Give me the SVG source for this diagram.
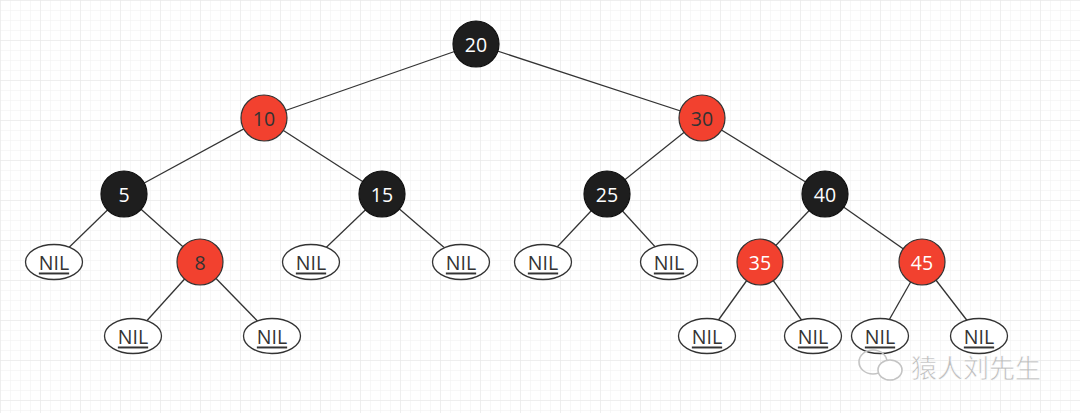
<svg xmlns="http://www.w3.org/2000/svg" width="1080" height="413" viewBox="0 0 1080 413">
<defs>
<pattern id="grid" width="10" height="10" patternUnits="userSpaceOnUse">
<path d="M10 0H0V10" fill="none" stroke="#f0f0f0" stroke-width="1"/>
</pattern>
<pattern id="grid2" width="40" height="40" patternUnits="userSpaceOnUse">
<path d="M40 0H0V40" fill="none" stroke="#e6e6e6" stroke-width="1"/>
</pattern>
<style>
.edge{stroke:#333;stroke-width:1.3;fill:none}
.b circle{fill:#1e1e1e;stroke:#111;stroke-width:1.2}
.r circle{fill:#f2412f;stroke:#333;stroke-width:1.2}
.n ellipse{fill:#fff;stroke:#333;stroke-width:1.3}
text{font-family:"Open Sans","Noto Sans","Liberation Sans",sans-serif;font-size:19.5px;text-anchor:middle;dominant-baseline:central}
.b text{fill:#fff}
.r text{fill:#333}
.r.w text{fill:#fff}
.n text{fill:#333;text-decoration:underline}
.wm{font-family:"Noto Sans CJK SC",sans-serif;font-size:26px;fill:#bdbdbd;stroke:#fff;stroke-width:0.6;text-anchor:start}
</style>
</defs>
<rect width="1080" height="413" fill="#fff"/>
<rect width="1080" height="413" fill="url(#grid)"/>
<rect width="1080" height="413" fill="url(#grid2)"/>
<g id="connectors">
<line class="edge" x1="476" y1="44" x2="264" y2="118"/>
<line class="edge" x1="476" y1="44" x2="702" y2="118"/>
<line class="edge" x1="264" y1="118" x2="124" y2="194"/>
<line class="edge" x1="264" y1="118" x2="382" y2="194"/>
<line class="edge" x1="702" y1="118" x2="607" y2="194"/>
<line class="edge" x1="702" y1="118" x2="825" y2="194"/>
<line class="edge" x1="124" y1="194" x2="54" y2="262"/>
<line class="edge" x1="124" y1="194" x2="200" y2="262"/>
<line class="edge" x1="382" y1="194" x2="311" y2="262"/>
<line class="edge" x1="382" y1="194" x2="461" y2="262"/>
<line class="edge" x1="607" y1="194" x2="543" y2="262"/>
<line class="edge" x1="607" y1="194" x2="669" y2="262"/>
<line class="edge" x1="825" y1="194" x2="760" y2="262"/>
<line class="edge" x1="825" y1="194" x2="922" y2="262"/>
<line class="edge" x1="200" y1="262" x2="133" y2="336"/>
<line class="edge" x1="200" y1="262" x2="272" y2="336"/>
<line class="edge" x1="760" y1="262" x2="707" y2="336"/>
<line class="edge" x1="760" y1="262" x2="813" y2="336"/>
<line class="edge" x1="922" y1="262" x2="880" y2="336"/>
<line class="edge" x1="922" y1="262" x2="979" y2="336"/>
</g>
<g id="n20" class="b"><circle cx="476" cy="44" r="23"/><text x="476" y="44">20</text></g>
<g id="n10" class="r"><circle cx="264" cy="118" r="23"/><text x="264" y="118">10</text></g>
<g id="n30" class="r"><circle cx="702" cy="118" r="23"/><text x="702" y="118">30</text></g>
<g id="n5" class="b"><circle cx="124" cy="194" r="23"/><text x="124" y="194">5</text></g>
<g id="n15" class="b"><circle cx="382" cy="194" r="23"/><text x="382" y="194">15</text></g>
<g id="n25" class="b"><circle cx="607" cy="194" r="23"/><text x="607" y="194">25</text></g>
<g id="n40" class="b"><circle cx="825" cy="194" r="23"/><text x="825" y="194">40</text></g>
<g id="n8" class="r"><circle cx="200" cy="262" r="23"/><text x="200" y="262">8</text></g>
<g id="n35" class="r w"><circle cx="760" cy="262" r="23"/><text x="760" y="262">35</text></g>
<g id="n45" class="r w"><circle cx="922" cy="262" r="23"/><text x="922" y="262">45</text></g>
<g id="nil1" class="n"><ellipse cx="54" cy="262" rx="28.5" ry="17.5"/><text x="54" y="262">NIL</text></g>
<g id="nil2" class="n"><ellipse cx="311" cy="262" rx="28.5" ry="17.5"/><text x="311" y="262">NIL</text></g>
<g id="nil3" class="n"><ellipse cx="461" cy="262" rx="28.5" ry="17.5"/><text x="461" y="262">NIL</text></g>
<g id="nil4" class="n"><ellipse cx="543" cy="262" rx="28.5" ry="17.5"/><text x="543" y="262">NIL</text></g>
<g id="nil5" class="n"><ellipse cx="669" cy="262" rx="28.5" ry="17.5"/><text x="669" y="262">NIL</text></g>
<g id="nil6" class="n"><ellipse cx="133" cy="336" rx="28.5" ry="17.5"/><text x="133" y="336">NIL</text></g>
<g id="nil7" class="n"><ellipse cx="272" cy="336" rx="28.5" ry="17.5"/><text x="272" y="336">NIL</text></g>
<g id="nil8" class="n"><ellipse cx="707" cy="336" rx="28.5" ry="17.5"/><text x="707" y="336">NIL</text></g>
<g id="nil9" class="n"><ellipse cx="813" cy="336" rx="28.5" ry="17.5"/><text x="813" y="336">NIL</text></g>
<g id="nil10" class="n"><ellipse cx="880" cy="336" rx="28.5" ry="17.5"/><text x="880" y="336">NIL</text></g>
<g id="nil11" class="n"><ellipse cx="979" cy="336" rx="28.5" ry="17.5"/><text x="979" y="336">NIL</text></g>
<g id="watermark">
<ellipse cx="873" cy="362" rx="14" ry="12" fill="none" stroke="#c4c4c4" stroke-width="1.6"/>
<ellipse cx="890" cy="370" rx="12" ry="10" fill="#fff" stroke="#c4c4c4" stroke-width="1.6"/>
<text class="wm" x="911" y="366">猿人刘先生</text>
</g>
</svg>
